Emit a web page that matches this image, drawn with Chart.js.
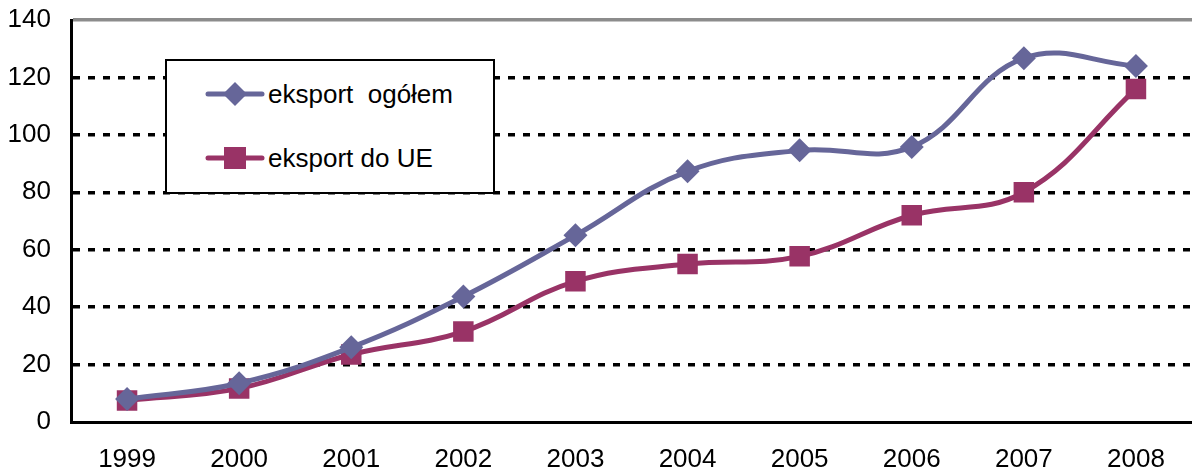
<!DOCTYPE html>
<html>
<head>
<meta charset="utf-8">
<script src="https://cdn.jsdelivr.net/npm/chart.js@4/dist/chart.umd.min.js"></script>
<style>
  html, body { margin: 0; padding: 0; background: #fff; }
  #wrap { position: relative; width: 1192px; height: 474px; }
  #legend {
    position: absolute; left: 165px; top: 59px; width: 326px; height: 131px;
    border: 2.5px solid #000; background: #fff; box-sizing: content-box;
    font-family: 'Liberation Sans', Arial, sans-serif; font-size: 26px; color: #000;
  }
  .legend-item { position: absolute; left: 38px; height: 30px; display: flex; align-items: center; }
  .legend-item svg { margin-right: 3px; }
</style>
</head>
<body>
<div id="wrap">
  <canvas id="chart" width="1192" height="474"></canvas>
  <div id="legend"></div>
</div>
<script>
const years = ['1999', '2000', '2001', '2002', '2003', '2004', '2005', '2006', '2007', '2008'];
const eksportOgolem = [8, 13.5, 26, 43.7, 65, 87.3, 94.6, 95.8, 126.7, 124];
const eksportUE = [7.5, 11.7, 23.5, 31.5, 49, 55, 57.7, 72, 80, 116];
const yTicks = [0, 20, 40, 60, 80, 100, 120, 140];

const BLUE = '#666699';
const PLUM = '#993366';
const FONT = "'Liberation Sans', Arial, sans-serif";

const ctx = document.getElementById('chart').getContext('2d');

new Chart(ctx, {
  type: 'line',
  data: {
    labels: years,
    datasets: [
      {
        label: 'eksport  ogółem',
        data: eksportOgolem,
        borderColor: BLUE,
        backgroundColor: BLUE,
        borderWidth: 5,
        tension: 0.4,
        pointStyle: 'rectRot',
        pointRadius: 12,
        pointBorderWidth: 0,
      },
      {
        label: 'eksport do UE',
        data: eksportUE,
        borderColor: PLUM,
        backgroundColor: PLUM,
        borderWidth: 5,
        tension: 0.4,
        pointStyle: 'rect',
        pointRadius: 14.5,
        pointBorderWidth: 0,
      },
    ],
  },
  options: {
    responsive: false,
    animation: false,
    layout: { autoPadding: false, padding: { top: 20, right: 0, left: 0, bottom: 0 } },
    plugins: { legend: { display: false }, tooltip: { enabled: false } },
    scales: {
      x: {
        offset: true,
        grid: { display: false },
        border: { display: true, color: '#000', width: 3 },
        ticks: { color: '#000', font: { family: FONT, size: 26 }, padding: 14, maxRotation: 0 },
        afterFit: (s) => {
          s.height = 52;
          s.paddingLeft = 0;
          s.paddingRight = 0;
        },
      },
      y: {
        min: 0,
        max: 140,
        afterBuildTicks: (s) => { s.ticks = yTicks.map((v) => ({ value: v })); },
        grid: {
          drawTicks: false,
          lineWidth: (c) => (c.tick && c.tick.value === 0 ? 0 : 3.5),
          color: (c) => (c.tick && c.tick.value === 140 ? '#8c8c8c' : '#000'),
        },
        border: {
          display: true,
          color: '#000',
          width: 3,
          dash: (c) => (c.tick && c.tick.value === 140 ? [] : [7, 8]),
        },
        ticks: { color: '#000', font: { family: FONT, size: 26 }, padding: 20 },
        afterFit: (s) => {
          s.width = 71;
          s.paddingTop = 0;
          s.paddingBottom = 0;
        },
      },
    },
  },
});

function legendMarker(color, shape) {
  const mark = shape === 'diamond'
    ? `<polygon points="30,3 42,15 30,27 18,15" fill="${color}"/>`
    : `<rect x="19" y="4" width="22" height="22" fill="${color}"/>`;
  return `<svg width="60" height="30" viewBox="0 0 60 30">
    <line x1="3" y1="15" x2="57" y2="15" stroke="${color}" stroke-width="5" stroke-linecap="round"/>
    ${mark}
  </svg>`;
}

document.getElementById('legend').innerHTML = `
  <div class="legend-item" style="top:18px">${legendMarker(BLUE, 'diamond')}<span>eksport&nbsp; ogółem</span></div>
  <div class="legend-item" style="top:82px">${legendMarker(PLUM, 'rect')}<span>eksport do UE</span></div>
`;
</script>
</body>
</html>
